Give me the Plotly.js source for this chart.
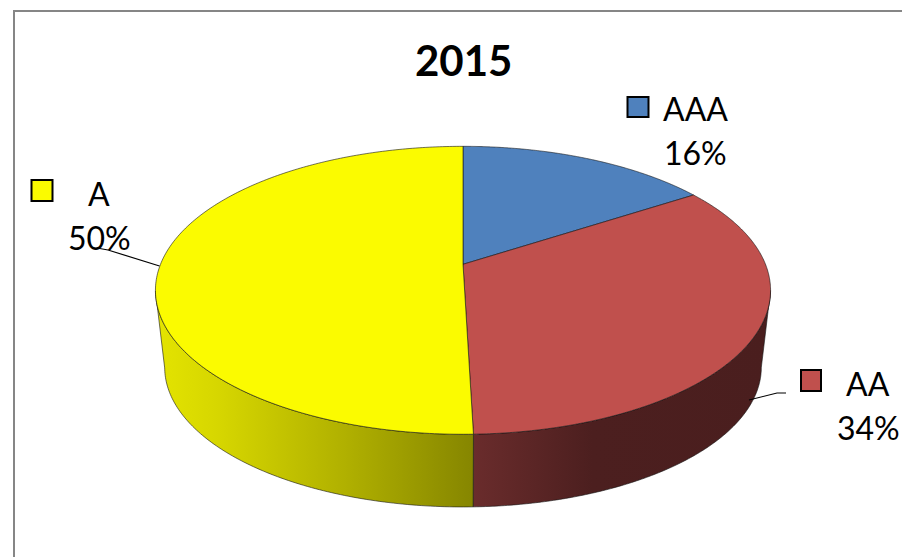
<!DOCTYPE html>
<html><head><meta charset="utf-8">
<script src="https://cdn.plot.ly/plotly-3.0.1.min.js"></script>
<style>html,body{margin:0;padding:0;background:#fff}#g{width:902px;height:557px}</style>
</head><body><div id="g"></div>
<script>
const categories = ['AAA', 'AA', 'A'];
const values = [15.8, 33.75, 50.45];
const topColors = ['#4F81BD', '#C0504D', '#FBFB00'];
const wallColors = ['#2a4566', '#5c2626', '#b5b500'];
const chartTitle = '2015';

const W = 902, H = 557, FONT = 'Lato, "Open Sans", sans-serif';
const px = x => x / W, py = y => 1 - y / H;
const total = values.reduce((a, b) => a + b, 0);
const pctText = values.map(v => Math.round(v / total * 100) + '%');

const edge = {color: 'rgba(20,20,20,0.75)', width: 0.8};
const pieTrace = colors => ({
  type: 'pie', labels: categories, values: values, sort: false, direction: 'clockwise', rotation: 0,
  textinfo: 'none', showlegend: false, hoverinfo: 'label+percent',
  marker: {colors: colors, line: edge}
});

const txt = (x, y, t, size, bold) => ({
  xref: 'paper', yref: 'paper', x: px(x), y: py(y), text: bold ? '<b>' + t + '</b>' : t, showarrow: false,
  xanchor: 'center', yanchor: 'middle', font: {family: FONT, size: size, color: '#000'}
});
const labelSpots = [[695, 109, 152], [868, 383, 427], [99, 193, 237]];
const keySpots = [[627.5, 97, 648.5, 117], [801, 370, 821, 391], [31.5, 180, 52.5, 201]];
const annotations = [txt(463, 60, chartTitle, 42, true)];
categories.forEach((c, i) => {
  annotations.push(txt(labelSpots[i][0], labelSpots[i][1], c, 32));
  annotations.push(txt(labelSpots[i][0], labelSpots[i][2], pctText[i], 32));
});
const shapes = [];
const line = (pts, color, width) => shapes.push({type: 'path', xref: 'paper', yref: 'paper',
  path: 'M' + pts.map(p => px(p[0]) + ',' + py(p[1])).join('L'), line: {color: color, width: width}});
line([[14, 557], [14, 11], [902, 11]], '#868686', 2);
line([[97, 248], [108, 250], [159.5, 266]], '#000', 1.2);
line([[749, 400], [777, 393], [786, 393]], '#000', 1.2);
keySpots.forEach((k, i) => shapes.push({type: 'rect', xref: 'paper', yref: 'paper',
  x0: px(k[0]), x1: px(k[2]), y0: py(k[1]), y1: py(k[3]), fillcolor: topColors[i], line: {color: '#000', width: 2}}));

const gd = document.getElementById('g');
Plotly.newPlot(gd, [pieTrace(wallColors), pieTrace(topColors)], {
  width: W, height: H, margin: {l: 0, r: 0, t: 0, b: 0}, paper_bgcolor: '#fff',
  annotations: annotations, shapes: shapes
}, {displayModeBar: false}).then(() => {
  // The library lays the slices out on a circle; tilt that circle into the
  // reference's perspective view and extrude its front rim into a wall.
  const k = 0.1806, CX = 463, AY = 264, Q = -91.6, A = 302.5;
  const tilt = (u, v) => { const w = 1 + k * v; return [CX + A * u / w, (AY + Q * v) / w + 0.3]; };
  const lower = p => [CX + (p[0] - CX) * 0.97, 367 + (p[1] - 290) * 0.97];
  const angle = o => Math.atan2(o[0], -o[1]);
  const arcOf = pt => {
    let a0 = angle(pt.px0), a1 = angle(pt.px1);
    if (a0 < 0) a0 += 2 * Math.PI;
    while (a1 <= a0 + 1e-6) a1 += 2 * Math.PI;
    const out = [];
    for (let i = 0; i <= 240; i++) { const a = a0 + (a1 - a0) * i / 240; out.push([Math.sin(a), Math.cos(a)]); }
    return out;
  };
  const d = pts => pts.length ? 'M' + pts.map(p => p[0].toFixed(2) + ',' + p[1].toFixed(2)).join('L') + 'Z' : 'M0,0Z';

  const svg = gd.querySelector('svg.main-svg');
  const ns = 'http://www.w3.org/2000/svg';
  const defs = svg.querySelector('defs');
  const gradient = (id, x1, x2, stops) => {
    const g = document.createElementNS(ns, 'linearGradient');
    g.setAttribute('id', id); g.setAttribute('gradientUnits', 'userSpaceOnUse');
    g.setAttribute('x1', x1); g.setAttribute('x2', x2); g.setAttribute('y1', 0); g.setAttribute('y2', 0);
    stops.forEach(s => { const e = document.createElementNS(ns, 'stop');
      e.setAttribute('offset', s[0]); e.setAttribute('stop-color', s[1]); g.appendChild(e); });
    defs.appendChild(g);
  };
  gradient('wallA', 156, 473, [[0, '#e4e400'], [0.2, '#d6d600'], [0.6, '#b0b000'], [1, '#868600']]);
  gradient('wallAA', 473, 771, [[0, '#6a2c2c'], [0.4, '#4c1f1f'], [1, '#4a1e1e']]);
  const wallFills = ['#2a4566', 'url(#wallAA)', 'url(#wallA)'];

  const traces = gd.querySelectorAll('.pielayer .trace');
  [0, 1].forEach(t => {
    const paths = traces[t].querySelectorAll('.slice path.surface');
    gd.calcdata[t].forEach((pt, i) => {
      const arc = arcOf(pt);
      if (t === 1) {
        paths[i].setAttribute('d', d([tilt(0, 0)].concat(arc.map(a => tilt(a[0], a[1])))));
      } else {
        const front = arc.filter(a => a[1] <= -k).map(a => tilt(a[0], a[1]));
        paths[i].setAttribute('d', d(front.concat(front.slice().reverse().map(lower))));
        paths[i].style.fill = wallFills[i];
      }
    });
  });
});
</script></body></html>
